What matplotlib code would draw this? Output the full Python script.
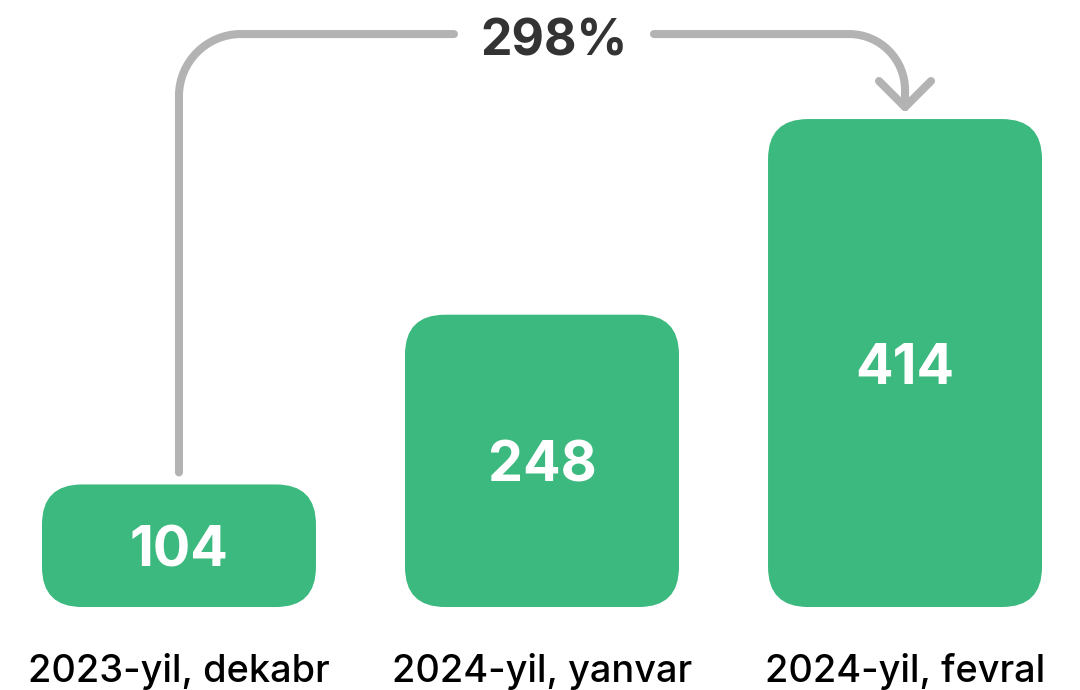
import matplotlib
matplotlib.use("Agg")
import matplotlib.pyplot as plt
from matplotlib.patches import FancyBboxPatch, PathPatch
from matplotlib.path import Path
from matplotlib.transforms import IdentityTransform

categories = ["2023-yil, dekabr", "2024-yil, yanvar", "2024-yil, fevral"]
values = [104, 248, 414]

green = "#3cb97f"
grey = "#b3b3b3"

plt.rcParams['font.family'] = ['Inter', 'DejaVu Sans']

fig = plt.figure(figsize=(10.8, 6.9), dpi=100)
ax = fig.add_axes([0, 0, 1, 1])
ax.set_xlim(-0.493, 2.482)
ax.set_ylim(-70.4, 515)
ax.axis('off')

# pixels per data unit, to keep corners round
px_x = 1080 / (2.482 + 0.493)
px_y = 690 / (515 + 70.4)
asp = px_x / px_y
w = 274 / px_x
r = 40 / px_x

xs = list(range(len(values)))
for x, v, cat in zip(xs, values, categories):
    box = FancyBboxPatch((x - w / 2, 0), w, v,
                         boxstyle=f"round,pad=0,rounding_size={r}",
                         mutation_aspect=asp, fc=green, ec='none')
    ax.add_patch(box)
    ax.annotate(str(v), (x, v / 2), xytext=(0, -15), textcoords='offset points',
                ha='center', va='baseline', color='white', fontsize=40,
                fontweight='bold')
    ax.annotate(cat, (x, 0), xytext=(0, -54), textcoords='offset points',
                ha='center', va='baseline', color='black', fontsize=27.3,
                fontweight='medium')

# growth arrow from first to last bar, drawn in pixels
pct = round((values[-1] / values[0] - 1) * 100)
bx0, by0 = ax.transData.transform((xs[0], values[0]))
bx2, by2 = ax.transData.transform((xs[-1], values[-1]))
ys = by0 + 12
ye = by2 + 12
yl = by2 + 85
tx = (bx0 + bx2) / 2 + 12
gap = 100
r1, r2, k = 62, 56, 0.5523

verts = [(bx0, ys), (bx0, yl - r1),
         (bx0, yl - r1 + k * r1), (bx0 + r1 - k * r1, yl), (bx0 + r1, yl),
         (tx - gap, yl),
         (tx + gap, yl), (bx2 - r2, yl),
         (bx2 - r2 + k * r2, yl), (bx2, yl - r2 + k * r2), (bx2, yl - r2),
         (bx2, ye),
         (bx2 - 26, ye + 26), (bx2, ye), (bx2 + 26, ye + 26)]
codes = [Path.MOVETO, Path.LINETO,
         Path.CURVE4, Path.CURVE4, Path.CURVE4,
         Path.LINETO,
         Path.MOVETO, Path.LINETO,
         Path.CURVE4, Path.CURVE4, Path.CURVE4,
         Path.LINETO,
         Path.MOVETO, Path.LINETO, Path.LINETO]
arrow = PathPatch(Path(verts, codes), transform=IdentityTransform(), fc='none',
                  ec=grey, lw=5.8, capstyle='round', joinstyle='round')
fig.patches.append(arrow)
fig.text(tx / 1080, (yl - 21) / 690, f"{pct}%", ha='center', va='baseline',
         fontsize=36, fontweight='bold', color='#333333')

fig.savefig("out.png", dpi=100)
